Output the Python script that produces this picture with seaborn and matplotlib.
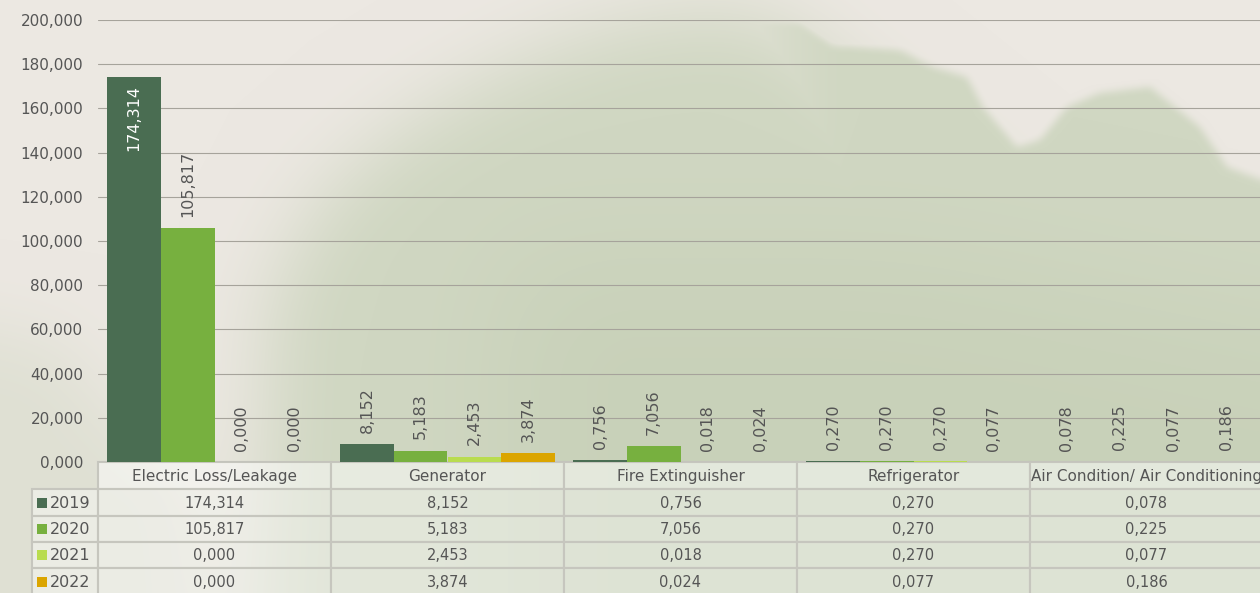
import numpy as np
import pandas as pd
import matplotlib
matplotlib.use("Agg")
import matplotlib.pyplot as plt
import seaborn as sns
from matplotlib.path import Path
from matplotlib.patches import Rectangle

# ---------------- data ----------------
categories = ["Electric Loss/Leakage", "Generator", "Fire Extinguisher",
              "Refrigerator", "Air Condition/ Air Conditioning"]
years = ["2019", "2020", "2021", "2022"]
v2019 = [174.314, 8.152, 0.756, 0.270, 0.078]
v2020 = [105.817, 5.183, 7.056, 0.270, 0.225]
v2021 = [0.000, 2.453, 0.018, 0.270, 0.077]
v2022 = [0.000, 3.874, 0.024, 0.077, 0.186]
yticks = [0, 20, 40, 60, 80, 100, 120, 140, 160, 180, 200]

colors = ["#4a6d52", "#77b03f", "#b9dc4f", "#dba500"]
TXT = "#555555"
FONT = ["DejaVu Sans"]


def fmt(v):
    return f"{v:,.3f}".replace(",", " ").replace(".", ",").replace(" ", ".")


series = {"2019": v2019, "2020": v2020, "2021": v2021, "2022": v2022}
df = pd.DataFrame([(c, y, series[y][i]) for y in years for i, c in enumerate(categories)],
                  columns=["category", "year", "value"])

sns.set_theme(style="white")
plt.rcParams["font.family"] = FONT

W, H = 1260, 593
fig = plt.figure(figsize=(W / 100, H / 100), dpi=100)

# ---------------- background (watercolour) ----------------
bg = fig.add_axes([0, 0, 1, 1])
bg.set_zorder(-1)
bg.axis("off")
PAD = 150
yy, xx = np.mgrid[-PAD:H + PAD, -PAD:W + PAD]
pts = np.c_[xx.ravel() + 0.5, yy.ravel() + 0.5]
SH = xx.shape


def pmask(poly):
    return Path(poly).contains_points(pts).reshape(SH).astype(float)


def blur1d(a, r, axis):
    pad = [(0, 0), (0, 0)]
    pad[axis] = (r + 1, r)
    p = np.pad(a, pad, mode="edge")
    c = np.cumsum(p, axis=axis)
    n = a.shape[axis]
    if axis == 0:
        return (c[2 * r + 1:2 * r + 1 + n] - c[0:n]) / (2 * r + 1)
    return (c[:, 2 * r + 1:2 * r + 1 + n] - c[:, 0:n]) / (2 * r + 1)


def blur(a, r):
    for _ in range(2):
        a = blur1d(blur1d(a, r, 0), r, 1)
    return a


right = [(1400, 750), (1400, 185), (1262, 180), (1227, 167), (1200, 127), (1150, 87),
         (1100, 93), (1067, 107), (1040, 140), (1017, 147), (983, 107), (967, 77),
         (933, 67), (900, 50), (833, 45), (800, 22), (500, 0), (500, 750)]
left = [(1000, 750), (1000, 200), (850, 80), (780, 20), (700, 10), (600, 30),
        (500, 70), (400, 130), (320, 200), (270, 300), (250, 750)]
corner = [(-200, 750), (-200, 300), (60, 340), (130, 430), (200, 480), (220, 750)]
ramp = np.clip((xx - 640) / 220.0, 0, 1)
ramp = ramp * ramp * (3 - 2 * ramp)
m = np.maximum(blur(pmask(right), 4) * ramp, blur(pmask(left), 45))
m = np.clip(m + 0.45 * blur(pmask(corner), 40), 0, 1)
m2 = blur(pmask([(500, 250), (900, 250), (1400, 350), (1400, 750), (500, 750)]), 70)
m = m[PAD:PAD + H, PAD:PAD + W]
m2 = m2[PAD:PAD + H, PAD:PAD + W]

beige = np.array([236, 232, 226]) / 255
green = np.array([208, 215, 194]) / 255
dgreen = np.array([196, 206, 180]) / 255
img = beige[None, None, :] * (1 - m[..., None]) + green[None, None, :] * m[..., None]
img = img * (1 - 0.6 * m2[..., None]) + dgreen[None, None, :] * (0.6 * m2[..., None])
bg.imshow(np.clip(img, 0, 1), extent=[0, W, H, 0], aspect="auto", interpolation="bilinear")
bg.set_xlim(0, W)
bg.set_ylim(H, 0)

# ---------------- bars ----------------
ax = fig.add_axes([98 / W, (H - 462) / H, 1165 / W, 442 / H])
ax.patch.set_alpha(0)
sns.barplot(data=df, x="category", y="value", hue="year", order=categories,
            hue_order=years, palette=colors, width=0.92, saturation=1,
            legend=False, ax=ax, errorbar=None, linewidth=0, edgecolor="none")
ax.set_xlim(-0.5, 4.5)
ax.set_ylim(0, 200)
ax.set_yticks(yticks)
ax.set_yticklabels([fmt(t) for t in yticks])
ax.tick_params(axis="y", length=0, pad=10.5, labelsize=11, labelcolor=TXT)
ax.set_xticks([])
ax.set_xlabel("")
ax.set_ylabel("")
for s in ax.spines.values():
    s.set_visible(False)
ax.yaxis.grid(True, color="#a6a39b", lw=0.8)
ax.set_axisbelow(True)

for cont, y in zip(ax.containers, years):
    vals = series[y]
    for bar, v in zip(cont, vals):
        x = bar.get_x() + bar.get_width() / 2
        h = bar.get_height()
        if v > 150:
            ax.annotate(fmt(v), (x, h), xytext=(0, -6), textcoords="offset points",
                        rotation=90, ha="center", va="top", color="white", fontsize=11.5)
        else:
            ax.annotate(fmt(v), (x, h), xytext=(0, 8), textcoords="offset points",
                        rotation=90, ha="center", va="bottom", color=TXT, fontsize=11.5)

# ---------------- data table ----------------
col_x = [98 + 233 * i for i in range(6)]
row_y = [462, 489, 516, 542, 568, 595]
lc = "#c6c6be"
for i, c in enumerate(categories):
    bg.add_patch(Rectangle((col_x[i], row_y[0]), 233, row_y[1] - row_y[0],
                           facecolor=(1, 1, 1, 0.5), edgecolor=lc, lw=1.5, zorder=3))
    bg.text(col_x[i] + 116.5, (row_y[0] + row_y[1]) / 2 + 1, c, ha="center", va="center",
            color=TXT, fontsize=11, zorder=4)
for r, y in enumerate(years):
    y0, y1 = row_y[r + 1], row_y[r + 2]
    bg.add_patch(Rectangle((32, y0), 66, y1 - y0, facecolor=(1, 1, 1, 0.4),
                           edgecolor=lc, lw=1.5, zorder=3))
    bg.add_patch(Rectangle((37, (y0 + y1) / 2 - 5), 10, 10, facecolor=colors[r],
                           edgecolor="none", zorder=4))
    bg.text(50, (y0 + y1) / 2 + 1, y, ha="left", va="center", color=TXT,
            fontsize=11.5, zorder=4)
    for i in range(len(categories)):
        bg.add_patch(Rectangle((col_x[i], y0), 233, y1 - y0, facecolor=(1, 1, 1, 0.4),
                               edgecolor=lc, lw=1.5, zorder=3))
        bg.text(col_x[i] + 116.5, (y0 + y1) / 2 + 1, fmt(series[y][i]), ha="center",
                va="center", color=TXT, fontsize=10.5, zorder=4)

fig.savefig("out.png", dpi=100)
